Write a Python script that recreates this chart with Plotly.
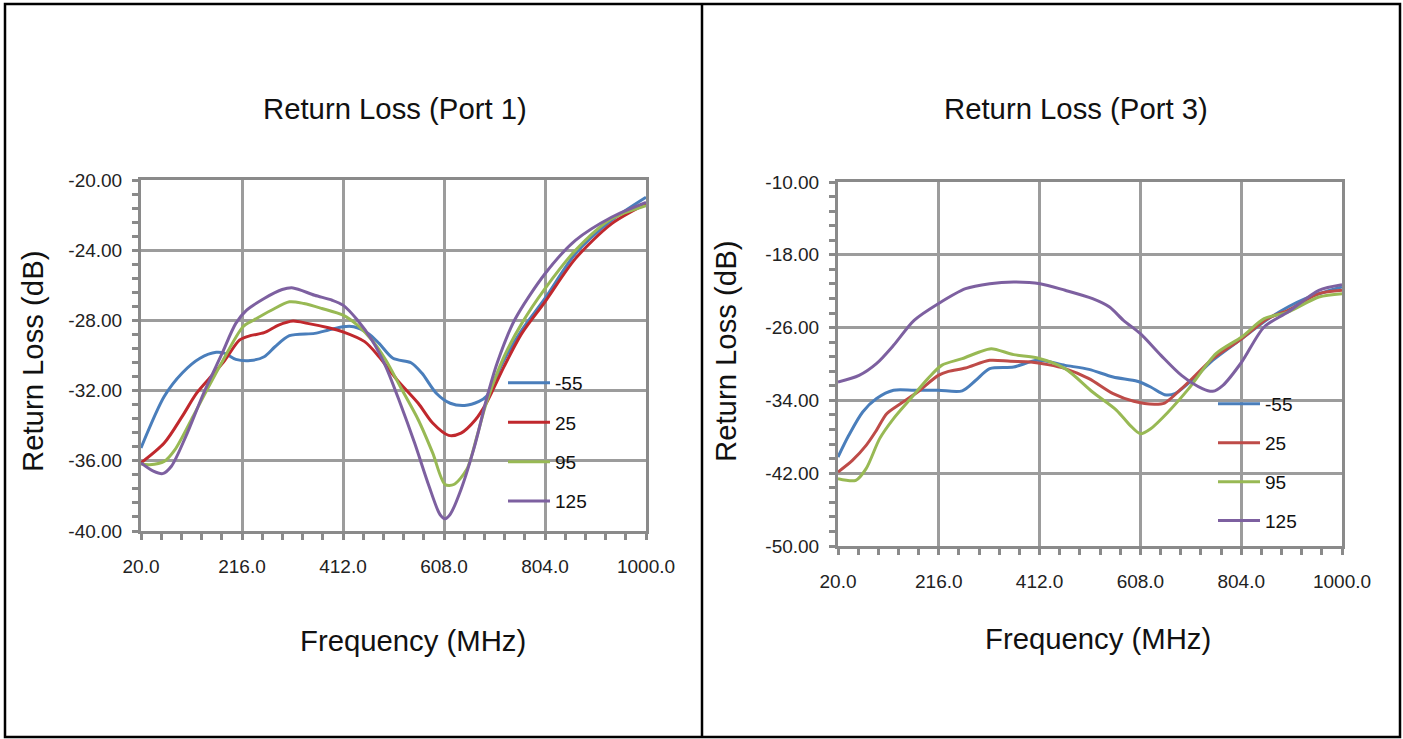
import plotly.graph_objects as go

W, H = 1403, 739

# ---------------- data: Port 1 ----------------
p1_f_m55 = [20, 65, 100, 134.5, 166, 183, 204, 232, 259, 280, 308, 357, 384, 412, 433, 461, 482, 509, 544, 565, 593, 620, 648, 676, 690, 724.5, 759, 804, 863, 933, 1000]
p1_m55 = [-35.27, -32.34, -31.0, -30.16, -29.82, -29.88, -30.22, -30.29, -30.07, -29.5, -28.87, -28.74, -28.55, -28.36, -28.36, -28.74, -29.31, -30.16, -30.41, -31.0, -32.15, -32.72, -32.85, -32.62, -32.34, -30.26, -28.55, -26.75, -24.2, -22.3, -20.98]

p1_f_25 = [20, 65, 100, 128, 162, 183, 211, 232, 259, 287, 315, 343, 384, 412, 454, 482, 517, 558, 586, 617, 641, 669, 690, 724.5, 759, 804, 863, 933, 1000]
p1_25 = [-36.12, -34.99, -33.47, -32.15, -31.0, -30.26, -29.12, -28.87, -28.7, -28.27, -28.04, -28.17, -28.42, -28.65, -29.21, -30.07, -31.39, -32.72, -33.85, -34.55, -34.42, -33.66, -32.72, -30.63, -28.74, -26.94, -24.48, -22.5, -21.36]

p1_f_95 = [20, 37, 65, 86, 121, 148, 176, 218, 239, 273, 308, 336, 371, 412, 440, 468, 495, 523, 558, 586, 610, 627, 652, 672, 690, 724.5, 759, 804, 863, 933, 1000]
p1_95 = [-36.18, -36.22, -36.03, -35.36, -33.47, -31.96, -30.44, -28.36, -27.98, -27.42, -26.94, -27.04, -27.32, -27.7, -28.27, -29.12, -30.26, -31.77, -33.66, -35.55, -37.35, -37.35, -36.5, -34.6, -32.72, -30.07, -28.17, -26.19, -24.01, -22.21, -21.46]

p1_f_125 = [20, 44, 62, 79, 107, 141.5, 176, 204, 225, 259, 294, 315, 357, 391, 412, 440, 468, 495, 523, 551, 579, 600, 610, 620, 641, 669, 690, 711, 745, 804, 863, 933, 1000]
p1_125 = [-36.12, -36.59, -36.73, -36.31, -34.61, -32.15, -29.97, -28.17, -27.42, -26.75, -26.24, -26.15, -26.57, -26.85, -27.13, -27.98, -29.12, -30.63, -32.72, -34.99, -37.45, -39.05, -39.3, -39.05, -37.63, -34.99, -32.53, -30.44, -27.98, -25.34, -23.44, -22.12, -21.27]

# ---------------- data: Port 3 ----------------
p3_f_m55 = [20, 41, 68, 95, 128, 168, 215, 261.5, 288, 315, 361.5, 408, 461.6, 508, 555, 602, 628, 655, 675, 708, 748.5, 805, 862, 928.6, 1000]
p3_m55 = [-40.22, -37.84, -35.27, -33.8, -32.89, -32.89, -32.89, -32.95, -31.79, -30.51, -30.33, -29.6, -30.15, -30.59, -31.43, -31.9, -32.53, -33.37, -33.26, -31.79, -29.6, -27.22, -24.84, -22.82, -21.54]

p3_f_25 = [20, 48, 74.7, 94.7, 114.7, 141.4, 174.8, 215, 234.8, 268, 315, 355, 395, 428, 461.6, 508, 555, 595, 635, 655, 688, 715, 748.5, 805, 855, 895, 955, 1000]
p3_25 = [-41.87, -40.59, -38.94, -37.29, -35.46, -34.36, -33.08, -31.25, -30.81, -30.44, -29.6, -29.71, -29.78, -30.07, -30.51, -31.61, -33.26, -34.1, -34.43, -34.29, -32.71, -31.25, -29.41, -27.22, -25.02, -24.1, -22.27, -21.9]

p3_f_95 = [20, 54.7, 74.7, 101, 128, 161.4, 194.8, 221.5, 261.5, 295, 318, 361.5, 408, 461.6, 515, 561.7, 588, 608, 628, 662, 702, 755, 805, 848.6, 895, 955, 1000]
p3_95 = [-42.6, -42.78, -41.5, -38.2, -36.0, -33.8, -31.61, -30.15, -29.41, -28.68, -28.32, -28.97, -29.34, -30.51, -33.08, -35.09, -36.74, -37.66, -37.11, -35.27, -32.71, -28.86, -27.03, -25.02, -24.29, -22.64, -22.27]

p3_f_125 = [20, 61, 94.7, 128, 168, 215, 268, 315, 361.5, 413, 461.6, 515, 548, 575, 608, 648, 688, 728.5, 748.5, 768.5, 805, 848.6, 895, 955, 1000]
p3_125 = [-31.98, -31.25, -29.96, -27.95, -25.2, -23.37, -21.72, -21.17, -20.99, -21.17, -21.9, -22.82, -23.74, -25.2, -26.67, -29.05, -31.25, -32.7, -33.0, -32.34, -29.78, -25.93, -24.29, -21.9, -21.28]

series_names = ["-55", "25", "95", "125"]

# ---------------- tick labels ----------------
x_ticks = [20.0, 216.0, 412.0, 608.0, 804.0, 1000.0]
y1_ticks = [-40.0, -36.0, -32.0, -28.0, -24.0, -20.0]
y3_ticks = [-50.0, -42.0, -34.0, -26.0, -18.0, -10.0]
x_ticktext = [f"{v:.1f}" for v in x_ticks]
y1_ticktext = [f"{v:.2f}" for v in y1_ticks]
y3_ticktext = [f"{v:.2f}" for v in y3_ticks]

colors1 = ["#4A7EBB", "#C0282D", "#98B954", "#7D60A0"]
colors3 = ["#4A7EBB", "#BE4B48", "#98B954", "#7D60A0"]

FONT = "Liberation Sans, Arial, sans-serif"
AXIS_C = "#8A8A8A"
GRID_C = "#9C9C9C"
TSIZE = 29.3

fig = go.Figure()

p1 = [(p1_f_m55, p1_m55), (p1_f_25, p1_25), (p1_f_95, p1_95), (p1_f_125, p1_125)]
p3 = [(p3_f_m55, p3_m55), (p3_f_25, p3_25), (p3_f_95, p3_95), (p3_f_125, p3_125)]

for i, (fx, fy) in enumerate(p1):
    fig.add_trace(go.Scatter(x=fx, y=fy, mode="lines", name=series_names[i],
                             line=dict(color=colors1[i], width=3, shape="spline", smoothing=0.8),
                             xaxis="x", yaxis="y", legend="legend", legendgroup=f"a{i}"))
for i, (fx, fy) in enumerate(p3):
    fig.add_trace(go.Scatter(x=fx, y=fy, mode="lines", name=series_names[i],
                             line=dict(color=colors3[i], width=3, shape="spline", smoothing=0.8),
                             xaxis="x2", yaxis="y2", legend="legend2", legendgroup=f"b{i}"))


def px_x(p):
    return p / W


def px_y(p):
    return 1 - p / H


def xaxis(dom, anchor):
    return dict(domain=dom, anchor=anchor, range=[20, 1000], tickvals=x_ticks, ticktext=x_ticktext,
                showline=True, linecolor=AXIS_C, linewidth=3, mirror=True,
                showgrid=True, gridcolor=GRID_C, gridwidth=3, zeroline=False,
                ticks="outside", ticklen=6, tickwidth=2.5, tickcolor=AXIS_C,
                minor=dict(dtick=39.2, tick0=20, ticks="outside", ticklen=6, tickwidth=2.5,
                           tickcolor=AXIS_C, showgrid=False),
                tickfont=dict(family=FONT, size=19, color="#222222"), ticklabelstandoff=10)


def yaxis(dom, anchor, rng, tv, tt, mdt):
    return dict(domain=dom, anchor=anchor, range=rng, tickvals=tv, ticktext=tt,
                showline=True, linecolor=AXIS_C, linewidth=3, mirror=True,
                showgrid=True, gridcolor=GRID_C, gridwidth=3, zeroline=False,
                ticks="outside", ticklen=6, tickwidth=2.5, tickcolor=AXIS_C,
                minor=dict(dtick=mdt, tick0=rng[0], ticks="outside", ticklen=6, tickwidth=2.5,
                           tickcolor=AXIS_C, showgrid=False),
                tickfont=dict(family=FONT, size=19, color="#222222"), ticklabelstandoff=6)


def label(text, x, y, angle=0):
    return dict(text=text, x=px_x(x), y=px_y(y), xref="paper", yref="paper", showarrow=False,
                textangle=angle, font=dict(family=FONT, size=TSIZE, color="#111111"),
                xanchor="center", yanchor="middle")


legend_common = dict(bgcolor="rgba(0,0,0,0)", borderwidth=0, font=dict(family=FONT, size=19, color="#111111"),
                     traceorder="grouped", itemwidth=42, xanchor="left", yanchor="top")

fig.update_layout(
    width=W, height=H, margin=dict(l=0, r=0, t=0, b=0, autoexpand=False),
    paper_bgcolor="white", plot_bgcolor="white", showlegend=True,
    xaxis=xaxis([px_x(141), px_x(646)], "y"),
    yaxis=yaxis([px_y(531), px_y(180)], "x", [-40, -20], y1_ticks, y1_ticktext, 0.8),
    xaxis2=xaxis([px_x(838), px_x(1342)], "y2"),
    yaxis2=yaxis([px_y(546), px_y(182)], "x2", [-50, -10], y3_ticks, y3_ticktext, 1.6),
    legend=dict(x=px_x(503), y=px_y(364), tracegroupgap=11.7, **legend_common),
    legend2=dict(x=px_x(1213), y=px_y(385), tracegroupgap=11.2, **legend_common),
    annotations=[
        label("Return Loss (Port 1)", 395, 108),
        label("Return Loss (Port 3)", 1076, 108),
        label("Frequency (MHz)", 413, 640),
        label("Frequency (MHz)", 1098, 638),
        label("Return Loss (dB)", 32.5, 361.5, -90),
        label("Return Loss (dB)", 725, 352, -90),
    ],
    shapes=[
        dict(type="rect", xref="paper", yref="paper", x0=px_x(5), x1=px_x(1400), y0=px_y(737), y1=px_y(4),
             line=dict(color="black", width=2.5), fillcolor="rgba(0,0,0,0)", layer="above"),
        dict(type="line", xref="paper", yref="paper", x0=px_x(702), x1=px_x(702), y0=px_y(737), y1=px_y(4),
             line=dict(color="black", width=2.5), layer="above"),
    ],
)

fig.write_html("out.html", config={"displayModeBar": False},
               post_script="document.body.style.margin='0';document.body.style.overflow='hidden';")
